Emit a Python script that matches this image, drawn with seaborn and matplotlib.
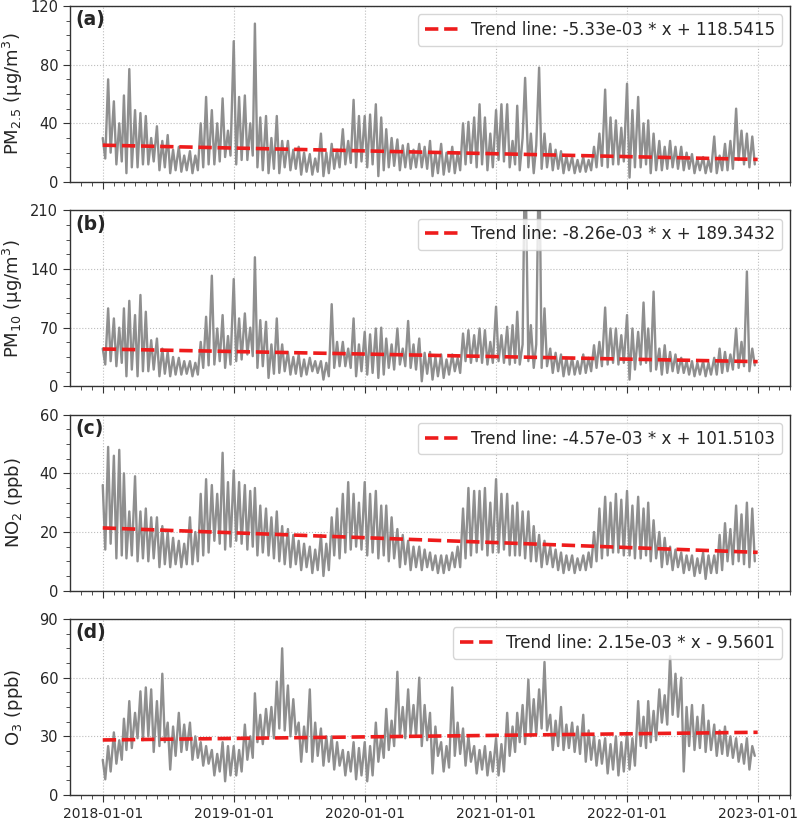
import numpy as np
import pandas as pd
import matplotlib
matplotlib.use("Agg")
import matplotlib.pyplot as plt
import matplotlib.dates as mdates
from matplotlib.ticker import AutoMinorLocator
import seaborn as sns

# ---------------------------------------------------------------------------
# Data: 4 values per month (around days 1, 8, 16, 23)
# ---------------------------------------------------------------------------
pm25_2018 = [30, 16, 70, 20, 55, 12, 40, 14, 59, 6, 77, 10, 49, 10, 47, 12,
             45, 12, 30, 14, 38, 8, 28, 10, 32, 6, 22, 8, 24, 7, 18, 8,
             21, 6, 18, 8, 40, 10, 58, 12, 49, 12, 40, 14, 57, 17, 35, 18]
pm25_2019 = [96, 12, 58, 15, 59, 15, 40, 18, 108, 10, 44, 8, 45, 6, 30, 9,
             45, 6, 28, 10, 28, 8, 22, 9, 24, 5, 20, 7, 19, 5, 16, 7,
             33, 4, 20, 6, 26, 9, 22, 10, 36, 12, 28, 13, 56, 10, 45, 14]
pm25_2020 = [45, 10, 46, 12, 53, 4, 44, 8, 36, 10, 30, 11, 29, 8, 25, 10,
             26, 9, 22, 10, 26, 10, 24, 9, 28, 4, 20, 6, 26, 5, 20, 7,
             24, 6, 20, 8, 40, 12, 41, 13, 44, 10, 53, 12, 44, 8, 33, 10]
pm25_2021 = [49, 15, 53, 14, 53, 10, 28, 12, 52, 8, 30, 71, 10, 33, 6, 25,
             78, 9, 33, 10, 26, 8, 22, 9, 21, 6, 18, 8, 17, 6, 15, 7,
             17, 7, 15, 8, 24, 10, 33, 11, 63, 10, 44, 12, 42, 12, 37, 14]
pm25_2022 = [67, 3, 49, 10, 58, 10, 40, 12, 42, 6, 33, 8, 28, 8, 24, 9,
             28, 10, 24, 9, 24, 8, 20, 9, 19, 6, 16, 8, 17, 6, 15, 7,
             31, 6, 18, 8, 26, 8, 28, 9, 50, 15, 35, 12, 33, 10, 31, 12]

pm10_2018 = [45, 26, 93, 30, 81, 24, 70, 28, 93, 12, 102, 20, 85, 12, 109, 18,
             89, 18, 55, 20, 57, 12, 45, 15, 41, 12, 35, 14, 34, 14, 30, 15,
             30, 12, 28, 14, 53, 22, 83, 25, 132, 26, 69, 30, 85, 22, 60, 26]
pm10_2019 = [128, 30, 81, 32, 87, 38, 70, 36, 154, 22, 79, 24, 77, 10, 50, 15,
             81, 16, 50, 18, 41, 14, 35, 15, 38, 12, 32, 14, 34, 18, 30, 16,
             30, 8, 28, 12, 98, 22, 53, 24, 53, 24, 45, 22, 81, 12, 50, 18]
pm10_2020 = [65, 14, 62, 16, 69, 10, 70, 14, 57, 22, 50, 20, 69, 26, 45, 24,
             78, 22, 50, 20, 57, 6, 40, 15, 41, 8, 35, 12, 38, 10, 32, 14,
             38, 18, 34, 16, 63, 30, 67, 28, 61, 30, 69, 28, 67, 26, 53, 28]
pm10_2021 = [95, 30, 61, 28, 71, 26, 73, 28, 89, 26, 50, 300, 30, 73, 22, 50,
             300, 22, 93, 24, 45, 16, 40, 18, 38, 12, 34, 14, 34, 14, 30, 15,
             38, 16, 34, 18, 49, 22, 53, 24, 94, 26, 69, 28, 69, 26, 61, 28]
pm10_2022 = [85, 8, 69, 20, 65, 26, 100, 28, 69, 18, 113, 20, 45, 14, 49, 16,
             41, 18, 38, 16, 34, 16, 30, 14, 30, 12, 28, 14, 30, 12, 28, 14,
             34, 14, 45, 16, 41, 18, 38, 20, 69, 22, 53, 24, 137, 18, 45, 25]

no2_2018 = [36, 14, 49, 16, 46, 11, 48, 12, 40, 11, 27, 12, 39, 10, 27, 11,
            28, 10, 25, 11, 25, 8, 22, 9, 20, 8, 18, 9, 17, 8, 16, 9,
            25, 9, 20, 10, 33, 12, 38, 13, 36, 17, 33, 16, 47, 14, 37, 15]
no2_2019 = [41, 17, 37, 16, 36, 14, 34, 15, 35, 12, 29, 13, 28, 12, 25, 11,
            27, 10, 22, 9, 21, 8, 19, 9, 17, 7, 16, 8, 15, 6, 14, 7,
            19, 5, 16, 7, 25, 12, 28, 11, 33, 13, 37, 14, 33, 15, 30, 14]
no2_2020 = [37, 12, 33, 13, 34, 11, 29, 12, 29, 10, 25, 11, 21, 8, 19, 9,
            17, 7, 15, 8, 15, 7, 14, 8, 13, 7, 12, 6, 12, 6, 12, 7,
            13, 8, 15, 8, 28, 11, 35, 12, 34, 13, 34, 14, 35, 12, 30, 13]
no2_2021 = [38, 13, 33, 14, 33, 12, 29, 12, 30, 12, 27, 11, 27, 10, 22, 10,
            19, 8, 17, 9, 15, 8, 14, 7, 13, 6, 12, 7, 12, 6, 11, 7,
            12, 7, 13, 8, 20, 10, 28, 11, 32, 12, 30, 13, 33, 13, 31, 12]
no2_2022 = [34, 12, 29, 11, 32, 11, 28, 12, 30, 10, 24, 11, 20, 8, 18, 9,
            15, 7, 14, 8, 13, 6, 12, 7, 12, 5, 11, 6, 13, 4, 12, 6,
            12, 6, 19, 7, 23, 10, 21, 9, 29, 10, 26, 9, 30, 8, 28, 10]

o3_2018 = [18, 8, 25, 12, 32, 16, 28, 18, 39, 23, 48, 24, 42, 29, 53, 28,
           55, 30, 54, 22, 48, 25, 62, 27, 37, 13, 35, 20, 42, 22, 36, 23,
           37, 18, 30, 19, 27, 15, 25, 16, 23, 10, 21, 12, 27, 7, 25, 10]
o3_2019 = [25, 10, 23, 12, 36, 18, 30, 19, 52, 27, 41, 26, 44, 30, 45, 29,
           58, 34, 75, 33, 56, 30, 49, 31, 37, 17, 35, 22, 54, 17, 37, 20,
           34, 15, 30, 17, 30, 13, 27, 15, 23, 10, 22, 12, 27, 8, 24, 10]
o3_2020 = [27, 7, 25, 10, 37, 17, 30, 19, 44, 23, 38, 25, 63, 30, 45, 29,
           54, 31, 46, 30, 60, 25, 46, 28, 42, 11, 35, 20, 27, 12, 25, 14,
           55, 20, 37, 21, 34, 15, 30, 17, 25, 11, 23, 13, 25, 10, 22, 12]
o3_2021 = [29, 10, 26, 12, 42, 20, 35, 22, 42, 27, 46, 26, 59, 30, 49, 31,
           54, 34, 68, 33, 41, 23, 38, 25, 45, 23, 36, 24, 37, 22, 35, 21,
           41, 17, 33, 18, 30, 15, 28, 16, 29, 11, 26, 13, 30, 10, 27, 12]
o3_2022 = [32, 13, 29, 15, 48, 25, 40, 24, 48, 27, 43, 28, 54, 37, 51, 36,
           71, 41, 62, 40, 60, 12, 45, 25, 46, 23, 40, 24, 46, 22, 38, 23,
           36, 20, 33, 21, 35, 20, 30, 19, 29, 17, 26, 16, 29, 13, 25, 20]

# trend line coefficients as printed in the legends (x = matplotlib date number)
trend_slopes = [-5.33e-03, -8.26e-03, -4.57e-03, 2.15e-03]
trend_intercepts = [118.5415, 189.3432, 101.5103, -9.5601]
trend_labels = ["Trend line: -5.33e-03 * x + 118.5415",
                "Trend line: -8.26e-03 * x + 189.3432",
                "Trend line: -4.57e-03 * x + 101.5103",
                "Trend line: 2.15e-03 * x - 9.5601"]

y_labels = ["PM$_{2.5}$ (\u03bcg/m$^3$)", "PM$_{10}$ (\u03bcg/m$^3$)",
            "NO$_2$ (ppb)", "O$_3$ (ppb)"]
panel_tags = ["(a)", "(b)", "(c)", "(d)"]
y_ticks = [[0, 40, 80, 120], [0, 70, 140, 210], [0, 20, 40, 60], [0, 30, 60, 90]]

# ---------------------------------------------------------------------------
months = pd.date_range("2018-01-01", "2022-12-01", freq="MS")
dates = [m + pd.Timedelta(days=d) for m in months for d in (0, 7, 15, 22)]

df = pd.DataFrame({
    "date": dates,
    "pm25": pm25_2018 + pm25_2019 + pm25_2020 + pm25_2021 + pm25_2022,
    "pm10": pm10_2018 + pm10_2019 + pm10_2020 + pm10_2021 + pm10_2022,
    "no2": no2_2018 + no2_2019 + no2_2020 + no2_2021 + no2_2022,
    "o3": o3_2018 + o3_2019 + o3_2020 + o3_2021 + o3_2022,
})
columns = ["pm25", "pm10", "no2", "o3"]

sns.set_style("ticks")
plt.rcParams["font.family"] = ["DejaVu Sans"]

fig, axes = plt.subplots(4, 1, figsize=(8, 8.21), dpi=100, sharex=True)
fig.subplots_adjust(left=0.0875, right=0.988, top=0.9927, bottom=0.0317, hspace=0.161)

trend_x = mdates.date2num([pd.Timestamp("2018-01-01"), pd.Timestamp("2022-12-31")])

for i, ax in enumerate(axes):
    sns.lineplot(data=df, x="date", y=columns[i], ax=ax, color="#8f8f8f",
                 linewidth=1.7, estimator=None)
    trend_y = trend_slopes[i] * trend_x + trend_intercepts[i]
    ax.plot(mdates.num2date(trend_x), trend_y, color="#ee1c1c", linestyle="--",
            linewidth=2.6, label=trend_labels[i])

    ax.set_ylim(y_ticks[i][0], y_ticks[i][-1])
    ax.set_yticks(y_ticks[i])
    ax.yaxis.set_minor_locator(AutoMinorLocator(4))
    ax.xaxis.set_major_locator(mdates.YearLocator())
    ax.xaxis.set_minor_locator(mdates.MonthLocator())
    ax.xaxis.set_major_formatter(mdates.DateFormatter("%Y-%m-%d"))
    ax.tick_params(axis="both", which="major", labelsize=10.5, length=5, color="#333333")
    ax.tick_params(axis="both", which="minor", length=2.6, color="#333333")
    ax.grid(True, which="major", linestyle=":", linewidth=0.8, color="#bdbdbd")
    for sp in ax.spines.values():
        sp.set_color("#333333")
        sp.set_linewidth(1.0)

    ax.set_ylabel(y_labels[i], fontsize=13)
    ax.set_xlabel("")
    ax.text(0.008, 0.975, panel_tags[i], transform=ax.transAxes, fontsize=13.5,
            fontweight="bold", va="top", ha="left")
    ax.legend(loc="upper right", fontsize=12, framealpha=0.8)

axes[-1].tick_params(axis="x", labelsize=10)
fig.align_ylabels(axes)

plt.savefig("out.png", dpi=100)
plt.close()
